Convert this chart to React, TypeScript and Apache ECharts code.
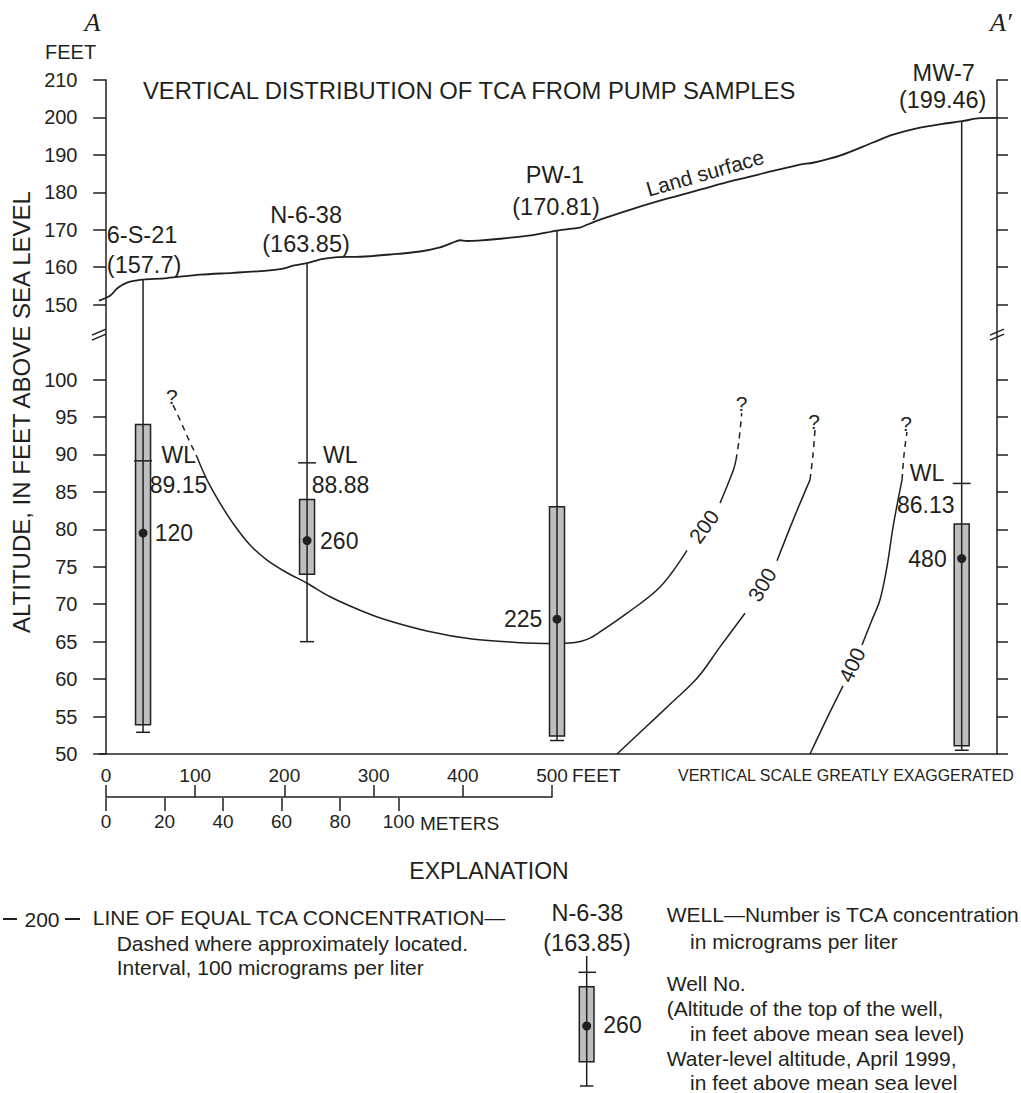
import React, { useEffect, useRef } from "react";
import * as echarts from "echarts";

const FONT = '"Liberation Sans", Arial, Helvetica, sans-serif';
const SERIF = '"Liberation Serif", "Times New Roman", serif';
const INK = "#231f20";
const SCREEN_FILL = "#bcbec0";

// ---------------- data (feet, altitude in feet above sea level) ----------------
const lowerTicks = [50, 55, 60, 65, 70, 75, 80, 85, 90, 95, 100];
const upperTicks = [150, 160, 170, 180, 190, 200, 210];
const feetScaleTicks = [0, 100, 200, 300, 400, 500];
const meterScaleTicks = [0, 20, 40, 60, 80, 100];

const landSurface = [
  [-8.0, 151.1], [4.4, 152.4], [13.3, 154.5], [23.4, 155.9], [34.6, 156.5], [41.4, 156.7],
  [68.3, 157.1], [105.3, 158.0], [142.3, 158.5], [180.4, 159.1], [198.4, 159.6], [209.6, 160.4],
  [225.3, 161.1], [243.3, 162.2], [259.0, 162.7], [284.7, 162.8], [318.4, 163.4], [352.0, 164.2],
  [374.4, 165.3], [387.9, 166.5], [396.8, 167.2], [404.7, 167.0], [417.0, 167.1], [441.7, 167.6],
  [478.7, 168.6], [505.6, 169.8], [531.4, 170.6], [535.9, 171.0], [553.8, 172.7], [590.8, 175.6],
  [628.9, 178.3], [665.9, 180.7], [702.9, 183.1], [741.0, 185.3], [778.0, 187.4], [792.6, 187.9],
  [822.9, 189.8], [859.9, 193.3], [882.3, 195.4], [912.6, 197.3], [938.4, 198.3], [959.7, 199.0],
  [979.9, 199.8], [999.0, 199.9],
];

const wellNames = ["6-S-21", "N-6-38", "PW-1", "MW-7"];
const wellTopLabels = ["(157.7)", "(163.85)", "(170.81)", "(199.46)"];
const wellX = [41.4, 225.3, 505.6, 959.4];
const wellTop = [156.7, 161.1, 169.9, 198.8];
const screenTop = [94.0, 84.0, 83.0, 80.7];
const screenBottom = [53.9, 74.0, 52.4, 51.1];
const wellBottom = [52.9, 65.0, 51.8, 50.5];
const waterLevel: (number | null)[] = [89.15, 88.88, null, 86.13];
const sampleAlt = [79.5, 78.5, 68.0, 76.1];
const tca = [120, 260, 225, 480];

// lines of equal TCA concentration
const c200DashLeft = [[75.0, 96.6], [82.9, 94.6], [91.8, 92.2], [101.9, 89.65]];
const c200SolidA = [
  [101.9, 89.65], [113.1, 86.6], [127.7, 83.5], [142.3, 80.8], [161.4, 77.9], [180.4, 75.9],
  [202.9, 74.2], [225.3, 72.8], [251.1, 71.0], [284.7, 69.2], [311.6, 68.0], [361.0, 66.4],
  [410.3, 65.35], [459.7, 64.9], [500.0, 64.75], [525.8, 64.9], [539.3, 65.3], [553.8, 66.3],
  [584.1, 68.8], [621.1, 72.3], [651.4, 77.2],
];
const c200SolidB = [[688.4, 83.5], [703.3, 87.9], [706.3, 89.25]];
const c200DashRight = [[706.3, 89.25], [709.7, 91.9], [712.7, 95.5]];

const c300SolidA = [[572.9, 50.0], [604.3, 53.5], [634.6, 56.9], [662.6, 60.1], [688.4, 64.3], [716.4, 68.8]];
const c300SolidB = [[752.3, 75.8], [770.2, 81.2], [789.3, 86.6]];
const c300Dash = [[789.3, 86.6], [792.6, 89.9], [794.9, 93.3]];

const c400SolidA = [[789.3, 50.0], [807.2, 54.5], [826.3, 59.1]];
const c400SolidB = [[847.6, 64.55], [858.8, 67.9], [867.8, 70.6], [875.6, 75.0], [882.4, 80.3], [888.0, 83.9], [892.5, 86.6]];
const c400Dash = [[892.5, 86.6], [894.7, 89.9], [898.0, 93.0]];

const contourValues = [200, 300, 400];
const contourLabelX = [670.4, 735.5, 836.3];
const contourLabelAlt = [80.4, 72.6, 61.9];
const questionMarks = [[73.6, 97.7], [712.7, 96.8], [793.8, 94.4], [897.0, 94.1]];
const landLabel = { text: "Land surface", x: 671.6, alt: 185.2 };
const breakAxisValue = 105.8; // axis (broken-scale) position of the break symbol

// ---------------- layout / style ----------------
const contourLabelAngle = [54, 59, 65];
const landLabelAngle = 16;
const wellLayout = [
  { name: [-1, -45], top: [1, -15], wl: [18.4, -6], wlv: [6.7, 24], c: [11.7, "left"] },
  { name: [-1, -48], top: [-1, -19], wl: [16, -8], wlv: [4.7, 22], c: [13, "left"] },
  { name: [-2, -55], top: [-1, -23], wl: null, wlv: null, c: [-14.7, "right"] },
  { name: [-18, -49], top: [-19, -22], wl: [-52, -10], wlv: [-64.7, 21.6], c: [-15, "right"] },
];

// broken vertical scale: 50-100 ft full scale, 150-210 ft at half scale
function toAxis(v: number) {
  return v <= 105 ? v : 110 + (v - 150) / 2;
}
function fromAxis(u: number) {
  return u <= 100 ? u : 150 + (u - 110) * 2;
}
const pts = (arr: number[][]) => arr.map(([x, a]) => [x, toAxis(a)]);

function txt(text: string, x: number, y: number, o: any = {}) {
  const align = o.align || "left";
  return {
    type: "text",
    x,
    y,
    rotation: o.rotation || 0,
    silent: true,
    style: {
      text,
      fill: INK,
      fontSize: o.size || 21,
      fontFamily: o.family || FONT,
      fontStyle: o.fontStyle || "normal",
      align,
      textAlign: align,
      verticalAlign: "middle",
      textVerticalAlign: "middle",
    },
  };
}
function seg(x1: number, y1: number, x2: number, y2: number, w = 1.5) {
  return { type: "line", silent: true, shape: { x1, y1, x2, y2 }, style: { stroke: INK, lineWidth: w } };
}

function buildOption() {
  const axisTickVals = [...lowerTicks, ...upperTicks].map(toAxis);
  const lineSeries = (data: number[][], dashed: boolean) => ({
    type: "line",
    data: pts(data),
    symbol: "none",
    smooth: 0.35,
    silent: true,
    lineStyle: { color: INK, width: 1.5, type: dashed ? [6, 5] : "solid" },
    xAxisIndex: 0,
    yAxisIndex: 0,
    z: 3,
  });

  const wellSeries = {
    type: "custom",
    xAxisIndex: 0,
    yAxisIndex: 0,
    silent: true,
    z: 5,
    data: wellX.map((x, i) => [x, toAxis(wellTop[i])]),
    encode: { x: 0, y: 1 },
    renderItem: (params: any, api: any) => {
      const i = params.dataIndex;
      const x = wellX[i];
      const P = (alt: number) => api.coord([x, toAxis(alt)]);
      const [cx, yTop] = P(wellTop[i]);
      const yBot = P(wellBottom[i])[1];
      const yS1 = P(screenTop[i])[1];
      const yS2 = P(screenBottom[i])[1];
      const ySample = P(sampleAlt[i])[1];
      const L = wellLayout[i];
      const children: any[] = [
        {
          type: "rect",
          shape: { x: cx - 7.5, y: yS1, width: 15, height: yS2 - yS1 },
          style: { fill: SCREEN_FILL, stroke: INK, lineWidth: 1.5 },
        },
        seg(cx, yTop, cx, yBot),
        seg(cx - 7, yBot, cx + 7, yBot),
        { type: "circle", shape: { cx, cy: ySample, r: 4.5 }, style: { fill: INK } },
        txt(wellNames[i], cx + L.name[0], yTop + L.name[1], { align: "center", size: 23.5 }),
        txt(wellTopLabels[i], cx + L.top[0], yTop + L.top[1], { align: "center", size: 23.5 }),
        txt(String(tca[i]), cx + (L.c[0] as number), ySample, { align: L.c[1], size: 23 }),
      ];
      const wl = waterLevel[i];
      if (wl != null && L.wl && L.wlv) {
        const yW = P(wl)[1];
        children.push(seg(cx - 9, yW, cx + 9, yW));
        children.push(txt("WL", cx + L.wl[0], yW + L.wl[1], { size: 23 }));
        children.push(txt(wl.toFixed(2), cx + L.wlv[0], yW + L.wlv[1], { size: 23 }));
      }
      return { type: "group", children };
    },
  };

  const breakSeries = {
    type: "custom",
    xAxisIndex: 0,
    yAxisIndex: 0,
    silent: true,
    z: 6,
    data: [[-8, breakAxisValue], [999, breakAxisValue]],
    encode: { x: 0, y: 1 },
    renderItem: (params: any, api: any) => {
      const [px, py] = api.coord([api.value(0), api.value(1)]);
      return {
        type: "group",
        children: [
          { type: "line", shape: { x1: px - 7, y1: py - 1, x2: px + 7, y2: py - 7 }, style: { stroke: INK, lineWidth: 1.6 } },
          { type: "line", shape: { x1: px - 7, y1: py + 4, x2: px + 7, y2: py - 2 }, style: { stroke: INK, lineWidth: 1.6 } },
        ],
      };
    },
  };

  // annotation texts placed at data coordinates
  const annots: { text: string; x: number; alt: number; angle: number }[] = [
    ...contourValues.map((v, i) => ({ text: String(v), x: contourLabelX[i], alt: contourLabelAlt[i], angle: contourLabelAngle[i] })),
    ...questionMarks.map(([x, a]) => ({ text: "?", x, alt: a, angle: 0 })),
    { text: landLabel.text, x: landLabel.x, alt: landLabel.alt, angle: landLabelAngle },
  ];
  const annotationSeries = {
    type: "custom",
    xAxisIndex: 0,
    yAxisIndex: 0,
    silent: true,
    z: 7,
    data: annots.map((a) => [a.x, toAxis(a.alt)]),
    encode: { x: 0, y: 1 },
    renderItem: (params: any, api: any) => {
      const a = annots[params.dataIndex];
      const [px, py] = api.coord([api.value(0), api.value(1)]);
      return txt(a.text, px, py, { align: "center", size: 21, rotation: (a.angle * Math.PI) / 180 });
    },
  };

  const axisLineStyle = { color: INK, width: 1.5 };

  const graphics: any[] = [
    txt("A", 92.5, 22, { align: "center", size: 26, family: SERIF, fontStyle: "italic" }),
    txt("A\u2032", 990, 22, { size: 26, family: SERIF, fontStyle: "italic" }),
    txt("FEET", 45, 52, { size: 20 }),
    txt("VERTICAL DISTRIBUTION OF TCA FROM PUMP SAMPLES", 143, 90, { size: 23.8 }),
    txt("ALTITUDE, IN FEET ABOVE SEA LEVEL", 21, 412, { align: "center", size: 24, rotation: Math.PI / 2 }),
    txt("FEET", 572, 775, { size: 19 }),
    txt("METERS", 420, 823, { size: 19 }),
    txt("VERTICAL SCALE GREATLY EXAGGERATED", 678, 775, { size: 16 }),
    txt("EXPLANATION", 489, 871, { align: "center", size: 23 }),
    // contour legend
    seg(3, 919, 17, 919, 2),
    seg(65, 919, 80, 919, 2),
    txt("200", 42, 919, { align: "center", size: 21 }),
    txt("LINE OF EQUAL TCA CONCENTRATION\u2014", 92.7, 917.5, { size: 21 }),
    txt("Dashed where approximately located.", 116.7, 943, { size: 21 }),
    txt("Interval, 100 micrograms per liter", 116.7, 967, { size: 21 }),
    // well legend icon
    txt("N-6-38", 587.5, 913, { align: "center", size: 23.5 }),
    txt("(163.85)", 587, 943, { align: "center", size: 23.5 }),
    {
      type: "rect",
      silent: true,
      shape: { x: 579.3, y: 986.7, width: 14.7, height: 75 },
      style: { fill: SCREEN_FILL, stroke: INK, lineWidth: 1.5 },
    },
    seg(586.7, 956, 586.7, 1086),
    seg(578.5, 972.3, 596, 972.3),
    seg(580, 1086, 593.4, 1086),
    { type: "circle", silent: true, shape: { cx: 586.7, cy: 1026, r: 4.5 }, style: { fill: INK } },
    txt("260", 603.3, 1025, { size: 23 }),
    txt("WELL\u2014Number is TCA concentration", 666.7, 914, { size: 21 }),
    txt("in micrograms per liter", 690, 941, { size: 21 }),
    txt("Well No.", 666.7, 983, { size: 21 }),
    txt("(Altitude of the top of the well,", 666.7, 1008, { size: 21 }),
    txt("in feet above mean sea level)", 690, 1033, { size: 21 }),
    txt("Water-level altitude, April 1999,", 666.7, 1058, { size: 21 }),
    txt("in feet above mean sea level", 690, 1082, { size: 21 }),
  ];

  return {
    animation: false,
    backgroundColor: "#ffffff",
    textStyle: { fontFamily: FONT, color: INK },
    grid: [
      { left: 99, top: 80, width: 898, height: 674 },
      { left: 106, top: 797, width: 446, height: 1 },
    ],
    xAxis: [
      {
        type: "value",
        gridIndex: 0,
        min: -8,
        max: 999,
        axisLine: { show: true, onZero: false, lineStyle: axisLineStyle },
        axisTick: { show: false },
        axisLabel: { show: false },
        splitLine: { show: false },
      },
      {
        type: "value",
        gridIndex: 1,
        position: "top",
        min: 0,
        max: 500,
        interval: 100,
        axisLine: { show: true, onZero: false, lineStyle: axisLineStyle },
        axisTick: { show: true, length: 12, lineStyle: axisLineStyle, customValues: feetScaleTicks },
        axisLabel: { show: true, margin: 12, fontSize: 19, color: INK, fontFamily: FONT, customValues: feetScaleTicks },
        splitLine: { show: false },
      },
      {
        type: "value",
        gridIndex: 1,
        position: "bottom",
        min: 0,
        max: 152.4,
        axisLine: { show: false, onZero: false },
        axisTick: { show: true, length: 13, lineStyle: axisLineStyle, customValues: meterScaleTicks },
        axisLabel: { show: true, margin: 14, fontSize: 19, color: INK, fontFamily: FONT, customValues: meterScaleTicks },
        splitLine: { show: false },
      },
    ],
    yAxis: [
      {
        type: "value",
        gridIndex: 0,
        position: "left",
        min: 50,
        max: 140,
        interval: 5,
        axisLine: { show: true, lineStyle: axisLineStyle },
        axisTick: { show: true, length: 13, lineStyle: axisLineStyle, customValues: axisTickVals },
        axisLabel: {
          show: true,
          margin: 21.5,
          fontSize: 20,
          color: INK,
          fontFamily: FONT,
          customValues: axisTickVals,
          formatter: (v: number) => (v > 100 && v < 110 ? "" : String(Math.round(fromAxis(v)))),
        },
        splitLine: { show: false },
      },
      {
        type: "value",
        gridIndex: 0,
        position: "right",
        min: 50,
        max: 140,
        interval: 5,
        axisLine: { show: true, lineStyle: axisLineStyle },
        axisTick: { show: true, length: 11, lineStyle: axisLineStyle, customValues: axisTickVals },
        axisLabel: { show: false },
        splitLine: { show: false },
      },
      { type: "value", gridIndex: 1, show: false, min: 0, max: 1 },
    ],
    series: [
      {
        type: "line",
        data: pts(landSurface),
        symbol: "none",
        smooth: 0.3,
        silent: true,
        lineStyle: { color: INK, width: 1.8 },
        xAxisIndex: 0,
        yAxisIndex: 0,
        z: 4,
      },
      lineSeries(c200DashLeft, true),
      lineSeries(c200SolidA, false),
      lineSeries(c200SolidB, false),
      lineSeries(c200DashRight, true),
      lineSeries(c300SolidA, false),
      lineSeries(c300SolidB, false),
      lineSeries(c300Dash, true),
      lineSeries(c400SolidA, false),
      lineSeries(c400SolidB, false),
      lineSeries(c400Dash, true),
      wellSeries,
      breakSeries,
      annotationSeries,
    ],
    graphic: { elements: graphics },
  };
}

export default function App() {
  const ref = useRef<HTMLDivElement>(null);
  useEffect(() => {
    if (!ref.current) return;
    const chart = echarts.init(ref.current, null, { renderer: "svg" });
    chart.setOption(buildOption() as any);
    return () => chart.dispose();
  }, []);
  return (
    <div
      ref={ref}
      style={{ position: "absolute", left: 0, top: 0, width: 1021, height: 1093, background: "#fff" }}
    />
  );
}
